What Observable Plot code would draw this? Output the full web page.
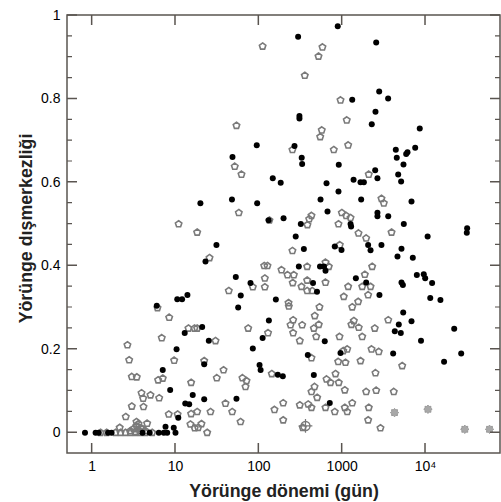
<!DOCTYPE html>
<html><head><meta charset="utf-8">
<script src="https://cdn.jsdelivr.net/npm/d3@7"></script>
<script src="https://cdn.jsdelivr.net/npm/@observablehq/plot@0.6"></script>
<style>
body{margin:0;background:#fff;}
svg{font-family:"Liberation Sans",Arial,Helvetica,sans-serif;}
</style>
</head><body><div id="chart"></div>
<script>
// Filled black points: orbital period (days), eccentricity
const blackPeriod = [885,296,2560,1320,2780,3560,2510,307,307,2265,8530,7520,48.3,94.4,268,4400,6080,5860,4520,5440,327,331,910,2490,147,183,649,1370,1660,1820,2650,4700,5100,903,19.9,47.6,95.5,550,1690,6790,667,198,131,319,1260,1280,2650,2650,3570,5490,31600,31300,10600,277,31.0,22.9,815,347,2050,2190,2960,5150,4610,7040,982,302,542,605,631,1460,1940,447,499,2800,7870,9530,9910,12000,5150,5350,11400,15100,5400,4780,4280,5050,6790,8830,22100,26800,16700,4090,618,387,955,457,710,160,132,111,84.7,79.4,52.9,60.7,56.5,20.9,25.1,102,105,169,194,22.1,53.9,10.5,12.0,13.9,5.96,12.9,10.3,7.03,8.63,16.1,13.1,14.6,10.8,7.59,9.53,7.95,10.0,6.31,7.24,0.82,1.10,1.20,1.55,1.71,4.02,4.9,22.1];
const blackEcc = [0.974,0.949,0.935,0.798,0.818,0.801,0.769,0.759,0.753,0.739,0.729,0.683,0.661,0.689,0.687,0.678,0.672,0.668,0.659,0.643,0.659,0.644,0.642,0.629,0.610,0.599,0.598,0.606,0.600,0.600,0.610,0.619,0.602,0.578,0.550,0.559,0.550,0.559,0.559,0.554,0.530,0.514,0.509,0.500,0.500,0.494,0.527,0.519,0.519,0.500,0.490,0.479,0.470,0.470,0.450,0.410,0.446,0.440,0.450,0.437,0.450,0.441,0.422,0.419,0.438,0.398,0.398,0.398,0.388,0.370,0.360,0.359,0.338,0.330,0.378,0.380,0.370,0.359,0.360,0.354,0.323,0.318,0.288,0.259,0.243,0.239,0.267,0.220,0.249,0.190,0.170,0.190,0.219,0.186,0.191,0.138,0.071,0.319,0.269,0.227,0.202,0.359,0.373,0.329,0.300,0.253,0.220,0.162,0.150,0.139,0.135,0.080,0.081,0.320,0.320,0.330,0.304,0.239,0.200,0.150,0.102,0.090,0.070,0.068,0.036,0.014,0.012,0,0,0,0,0,0,0,0,0,0,0,0.164];

// Open grey pentagons
const openPeriod = [111,580,520,356,955,1135,569,545,53.9,51.4,61.9,253,793,1180,2085,2960,3160,57.5,10.9,18.2,134,428,402,383,990,1117,1260,903,3910,1570,1940,936,253,25.6,116,127,187,221,263,255,325,84.7,118,118,43.6,227,229,258,240,331,258,129,74.5,18.2,30.2,310,22.1,37.7,31.3,143,63.6,71.1,69.2,18.2,26.3,39.8,47.9,20.5,18.7,24.0,60.3,154,196,196,310,337,631,691,380,2290,1870,1740,2190,2050,1180,1045,631,380,380,437,534,1556,1320,469,524,457,488,1380,1290,1580,929,1740,2460,3570,428,1030,1150,896,1096,2250,2750,1660,5250,2510,832,649,724,910,466,428,501,1075,1940,2560,4160,391,428,631,815,1075,1150,1320,2085,2050,2880,6.08,8.40,14.3,16.9,2.65,6.84,2.78,9.64,2.99,3.43,6.19,7.03,15.4,3.91,4.09,5.01,6.37,2.99,4.13,2.53,10.6,8.30,15.4,15.1,17.0,3.40,4.57,2.14,3.13,3.40,3.60,3.80,3.31,3.70,4.02,2.88,4.36,1.26,1.49,1.91,2.19,2.51,2.88,3.31,3.80,4.36,5.25];
const openEcc = [0.926,0.924,0.902,0.856,0.797,0.749,0.725,0.709,0.736,0.638,0.619,0.678,0.678,0.689,0.619,0.561,0.550,0.527,0.500,0.480,0.509,0.520,0.512,0.498,0.527,0.520,0.515,0.500,0.480,0.478,0.466,0.450,0.436,0.419,0.400,0.400,0.390,0.378,0.378,0.359,0.350,0.349,0.370,0.349,0.340,0.311,0.303,0.270,0.258,0.258,0.239,0.239,0.250,0.250,0.220,0.220,0.172,0.150,0.131,0.141,0.131,0.124,0.110,0.050,0.050,0.070,0.050,0.021,0.012,0,0.026,0.055,0.071,0.030,0.066,0.012,0.408,0.398,0.398,0.398,0.379,0.350,0.350,0.330,0.350,0.326,0.360,0.365,0.340,0.340,0.301,0.314,0.301,0.280,0.259,0.250,0.230,0.268,0.259,0.252,0.230,0.230,0.250,0.270,0.179,0.196,0.200,0.170,0.168,0.200,0.194,0.172,0.160,0.143,0.141,0.128,0.120,0.120,0.110,0.098,0.084,0.102,0.098,0.101,0.098,0.068,0.060,0.060,0.050,0.060,0.050,0.071,0.060,0.030,0.011,0.299,0.276,0.250,0.250,0.210,0.227,0.174,0.173,0.134,0.133,0.126,0.130,0.120,0.095,0.082,0.090,0.083,0.063,0.062,0.038,0.044,0.044,0.045,0.020,0.011,0.026,0.022,0.012,0.009,0.016,0.021,0.011,0.002,0.004,0.009,0.004,0.004,0,0,0,0,0,0,0,0,0,0];

// Light grey gear markers
const gearPeriod = [4250,10700,29600,58600];
const gearEcc = [0.048,0.056,0.008,0.008];

// Circle with cross marker
const crossPeriod = [363];
const crossEcc = [0.016];

// Axis ticks and domains
const xDomain = [0.506, 79400];
const yDomain = [-0.05, 1];
const xTickValues = [1,10,100,1000,10000];
const xTickLabels = ["1","10","100","1000","10\u2074"];
const yTickValues = [0,0.2,0.4,0.6,0.8,1];
const yTickLabels = ["0","0.2","0.4","0.6","0.8","1"];
const yMinorTicks = [0.05,0.1,0.15,0.25,0.3,0.35,0.45,0.5,0.55,0.65,0.7,0.75,0.85,0.9,0.95];

const blacks = blackPeriod.map((p,i)=>({p, e: blackEcc[i]}));
const opens = openPeriod.map((p,i)=>({p, e: openEcc[i]}));
const gears = gearPeriod.map((p,i)=>({p, e: gearEcc[i]}));
const crosses = crossPeriod.map((p,i)=>({p, e: crossEcc[i]}));

const pentagon = {draw(ctx, size){
  const r = Math.sqrt(size/Math.PI);
  for(let i=0;i<5;i++){
    const a = -Math.PI/2 + i*2*Math.PI/5;
    const x = r*Math.cos(a), y = r*Math.sin(a);
    if(i===0) ctx.moveTo(x,y); else ctx.lineTo(x,y);
  }
  ctx.closePath();
}};
const gear = {draw(ctx, size){
  const r = Math.sqrt(size/Math.PI);
  const n = 8;
  for(let i=0;i<2*n;i++){
    const a = i*Math.PI/n;
    const rr = i%2 ? r*0.72 : r;
    const x = rr*Math.cos(a), y = rr*Math.sin(a);
    if(i===0) ctx.moveTo(x,y); else ctx.lineTo(x,y);
  }
  ctx.closePath();
}};

const lineCol = "#5a5550";

const chart = Plot.plot({
  width: 501, height: 502,
  marginLeft: 67, marginRight: 1, marginTop: 15, marginBottom: 49,
  style: {fontSize: "14px"},
  x: {type: "log", domain: xDomain, ticks: xTickValues, tickFormat: d => xTickLabels[xTickValues.indexOf(d)], tickSize: 0, tickPadding: 8, label: null},
  y: {domain: yDomain, ticks: yTickValues, tickFormat: d => yTickLabels[yTickValues.indexOf(d)], tickSize: 0, tickPadding: 7, label: null},
  marks: [
    Plot.dot(opens, {x: "p", y: "e", symbol: pentagon, r: 3.4, stroke: "#7a7a7a", strokeWidth: 1.6, fill: "none"}),
    Plot.dot(gears, {x: "p", y: "e", symbol: gear, r: 4.2, fill: "#a8a8a8", stroke: "#9a9a9a", strokeWidth: 1}),
    Plot.dot(crosses, {x: "p", y: "e", symbol: "circle", r: 4.5, stroke: "#777", strokeWidth: 1.4, fill: "none"}),
    Plot.dot(crosses, {x: "p", y: "e", symbol: "plus", r: 4.5, stroke: "#777", strokeWidth: 1.2}),
    Plot.dot(blacks, {x: "p", y: "e", r: 3, fill: "#000", stroke: "none"}),
    Plot.text(["Yörünge dönemi (gün)"], {text: d=>d, frameAnchor: "bottom", lineAnchor: "middle", textAnchor: "middle", dy: 38, fontSize: 17.8, fontWeight: "bold", fill: "#222"}),
    Plot.text(["Yörünge dışmerkezliği"], {text: d=>d, frameAnchor: "left", lineAnchor: "middle", textAnchor: "middle", rotate: -90, dx: -41, dy: -6, fontSize: 17.8, fontWeight: "bold", fill: "#222"})
  ]
});
document.getElementById("chart").appendChild(chart);

// Frame and inward ticks, positioned through Plot's own scales
const sx = chart.scale("x"), sy = chart.scale("y");
const x0 = sx.apply(xDomain[0]), x1 = sx.apply(xDomain[1]);
const y0 = sy.apply(yDomain[0]), y1 = sy.apply(yDomain[1]);
const g = d3.select(chart).append("g").attr("stroke", lineCol).attr("fill", "none");
g.append("rect").attr("x", x0).attr("y", y1).attr("width", x1 - x0).attr("height", y0 - y1).attr("stroke-width", 1.5);
g.selectAll(".ymaj").data(yTickValues).join("path").attr("stroke-width", 1.5)
  .attr("d", d => `M${x0},${sy.apply(d)}h10M${x1},${sy.apply(d)}h-10`);
g.selectAll(".ymin").data(yMinorTicks).join("path").attr("stroke-width", 1.2)
  .attr("d", d => `M${x0},${sy.apply(d)}h5M${x1},${sy.apply(d)}h-5`);
g.selectAll(".xmaj").data(xTickValues).join("path").attr("stroke-width", 1.5)
  .attr("d", d => `M${sx.apply(d)},${y0}v-10M${sx.apply(d)},${y1}v10`);
</script>
</body></html>
